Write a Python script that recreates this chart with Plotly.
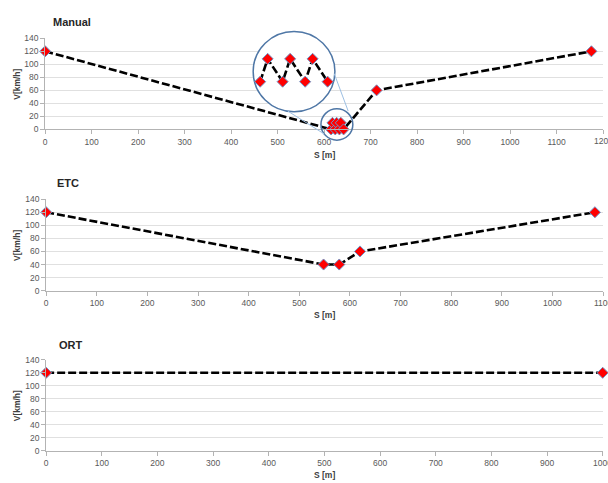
import plotly.graph_objects as go

# ---- data -------------------------------------------------------------
manual_s = [0, 615, 618, 624, 627, 633, 636, 642, 713, 1175]
manual_v = [120, 0, 10, 0, 10, 0, 10, 0, 60, 120]

etc_s = [0, 548, 579, 620, 1084]
etc_v = [120, 40, 40, 60, 120]

ort_s = [0, 1000]
ort_v = [120, 120]

panel_titles = ["Manual", "ETC", "ORT"]
x_max = [1200, 1100, 1000]
y_ticks = [0, 20, 40, 60, 80, 100, 120, 140]

# ---- page geometry helpers ---------------------------------------------
W, H = 608, 483


def px(x):
    return x / W


def py(y):
    return 1 - y / H


# plot-area boxes (left, right, top, bottom) in pixels
boxes = [
    (43.3, 603.0, 34.0, 127.0),
    (44.3, 603.0, 198.3, 291.7),
    (44.3, 602.7, 362.3, 455.3),
]
title_pos = [(49, 17.3), (53, 181.7), (55, 347.3)]
xlabel_y = [152.7, 316.7, 480.0]

line_style = dict(color="black", width=2.6, dash="8px,3px")
marker_style = dict(symbol="diamond", size=8.5, color="#ff0000",
                    line=dict(color="#6f95c8", width=1))
tick_font = dict(family="Liberation Sans", size=8.5, color="#595959")

fig = go.Figure()

series = [(manual_s, manual_v), (etc_s, etc_v), (ort_s, ort_v)]
annotations = []
for i, ((s, v), box, name, xm) in enumerate(zip(series, boxes, panel_titles, x_max)):
    k = "" if i == 0 else str(i + 1)
    fig.add_trace(go.Scatter(x=s, y=v, mode="lines+markers", line=line_style,
                             marker=marker_style, showlegend=False,
                             xaxis="x" + k, yaxis="y" + k, cliponaxis=False))
    l, r, t, b = box
    axis_common = dict(showline=True, linecolor="#b3b3b3", linewidth=1,
                       ticks="outside", tickcolor="#b3b3b3", ticklen=4,
                       tickfont=tick_font, zeroline=False)
    xt = list(range(0, xm + 1, 100))
    # the last label sits on the page edge; it is written as an annotation
    # so that it runs off the page instead of being pushed inwards
    fig.update_layout(**{
        "xaxis" + k: dict(domain=[px(l), px(r)], range=[0, xm], tickvals=xt,
                          ticktext=[str(t_) for t_ in xt[:-1]] + [""],
                          showgrid=False, anchor="y" + k, **axis_common),
        "yaxis" + k: dict(domain=[py(b), py(t)], range=[0, 140], tickvals=y_ticks,
                          showgrid=True, gridcolor="#e0e0e0", gridwidth=1,
                          anchor="x" + k, **axis_common),
    })
    annotations.append(dict(text=str(xm), x=xm, y=0, xref="x" + k, yref="y" + k,
                            xanchor="center", yanchor="top", yshift=-5,
                            showarrow=False, font=tick_font))
    tx, ty = title_pos[i]
    annotations.append(dict(text="<b>%s</b>" % name, x=px(tx), y=py(ty),
                            xref="paper", yref="paper", xanchor="left", yanchor="middle",
                            showarrow=False,
                            font=dict(family="Liberation Sans", size=11, color="#262626")))
    annotations.append(dict(text="<b>V[km/h]</b>", x=px(15), y=py((t + b) / 2),
                            xref="paper", yref="paper", textangle=-90,
                            xanchor="center", yanchor="middle", showarrow=False,
                            font=dict(family="Liberation Sans", size=8.5, color="#404040")))
    annotations.append(dict(text="<b>S [m]</b>", x=px((l + r) / 2), y=py(xlabel_y[i]),
                            xref="paper", yref="paper", xanchor="center", yanchor="middle",
                            showarrow=False,
                            font=dict(family="Liberation Sans", size=8.5, color="#404040")))

# ---- magnified view of the toll-booth stop-and-go cluster --------------
pad = 6
circle_box = (252, 334, 27, 109)          # left, right, top, bottom (px)
inset_box = (circle_box[0] - pad, circle_box[1] + pad,
             circle_box[2] - pad, circle_box[3] + pad)
x_scale = 67.7 / 27.0   # px per metre inside the magnifier
y_scale = 23.3 / 10.0   # px per km/h inside the magnifier


def inset_x(p):
    return 615 + (p - 259) / x_scale


def inset_y(q):
    return (78.3 - q) / y_scale


fig.add_trace(go.Scatter(x=manual_s[1:8], y=manual_v[1:8], mode="lines+markers",
                         line=line_style, marker=marker_style, showlegend=False,
                         xaxis="x4", yaxis="y4", cliponaxis=False))
fig.update_layout(
    xaxis4=dict(domain=[px(inset_box[0]), px(inset_box[1])],
                range=[inset_x(inset_box[0]), inset_x(inset_box[1])],
                visible=False, anchor="y4"),
    yaxis4=dict(domain=[py(inset_box[3]), py(inset_box[2])],
                range=[inset_y(inset_box[3]), inset_y(inset_box[2])],
                visible=False, anchor="x4"),
)

circle_color = "#4f77a6"
shapes = [
    # big magnifier circle (white, hides gridlines behind the zoomed marks)
    dict(type="circle", xref="x4", yref="y4",
         x0=inset_x(circle_box[0]), x1=inset_x(circle_box[1]),
         y0=inset_y(circle_box[3]), y1=inset_y(circle_box[2]),
         fillcolor="white", line=dict(color=circle_color, width=1.5), layer="below"),
    # small circle around the cluster
    dict(type="circle", xref="paper", yref="paper",
         x0=px(320), x1=px(352), y0=py(138), y1=py(106),
         line=dict(color=circle_color, width=1.5), layer="above"),
    # connector lines
    dict(type="line", xref="paper", yref="paper", x0=px(286.7), y0=py(108.3),
         x1=px(323.3), y1=py(131.7), line=dict(color="#9dbfe3", width=1)),
    dict(type="line", xref="paper", yref="paper", x0=px(333.3), y0=py(70),
         x1=px(347.3), y1=py(108.3), line=dict(color="#9dbfe3", width=1)),
]

# transparent plot areas so the inset panel does not blank out the chart below it
fig.update_layout(width=W, height=H, margin=dict(l=0, r=0, t=0, b=0),
                  paper_bgcolor="white", plot_bgcolor="rgba(0,0,0,0)",
                  annotations=annotations, shapes=shapes,
                  font=dict(family="Liberation Sans"))

fig.write_html("out.html")
